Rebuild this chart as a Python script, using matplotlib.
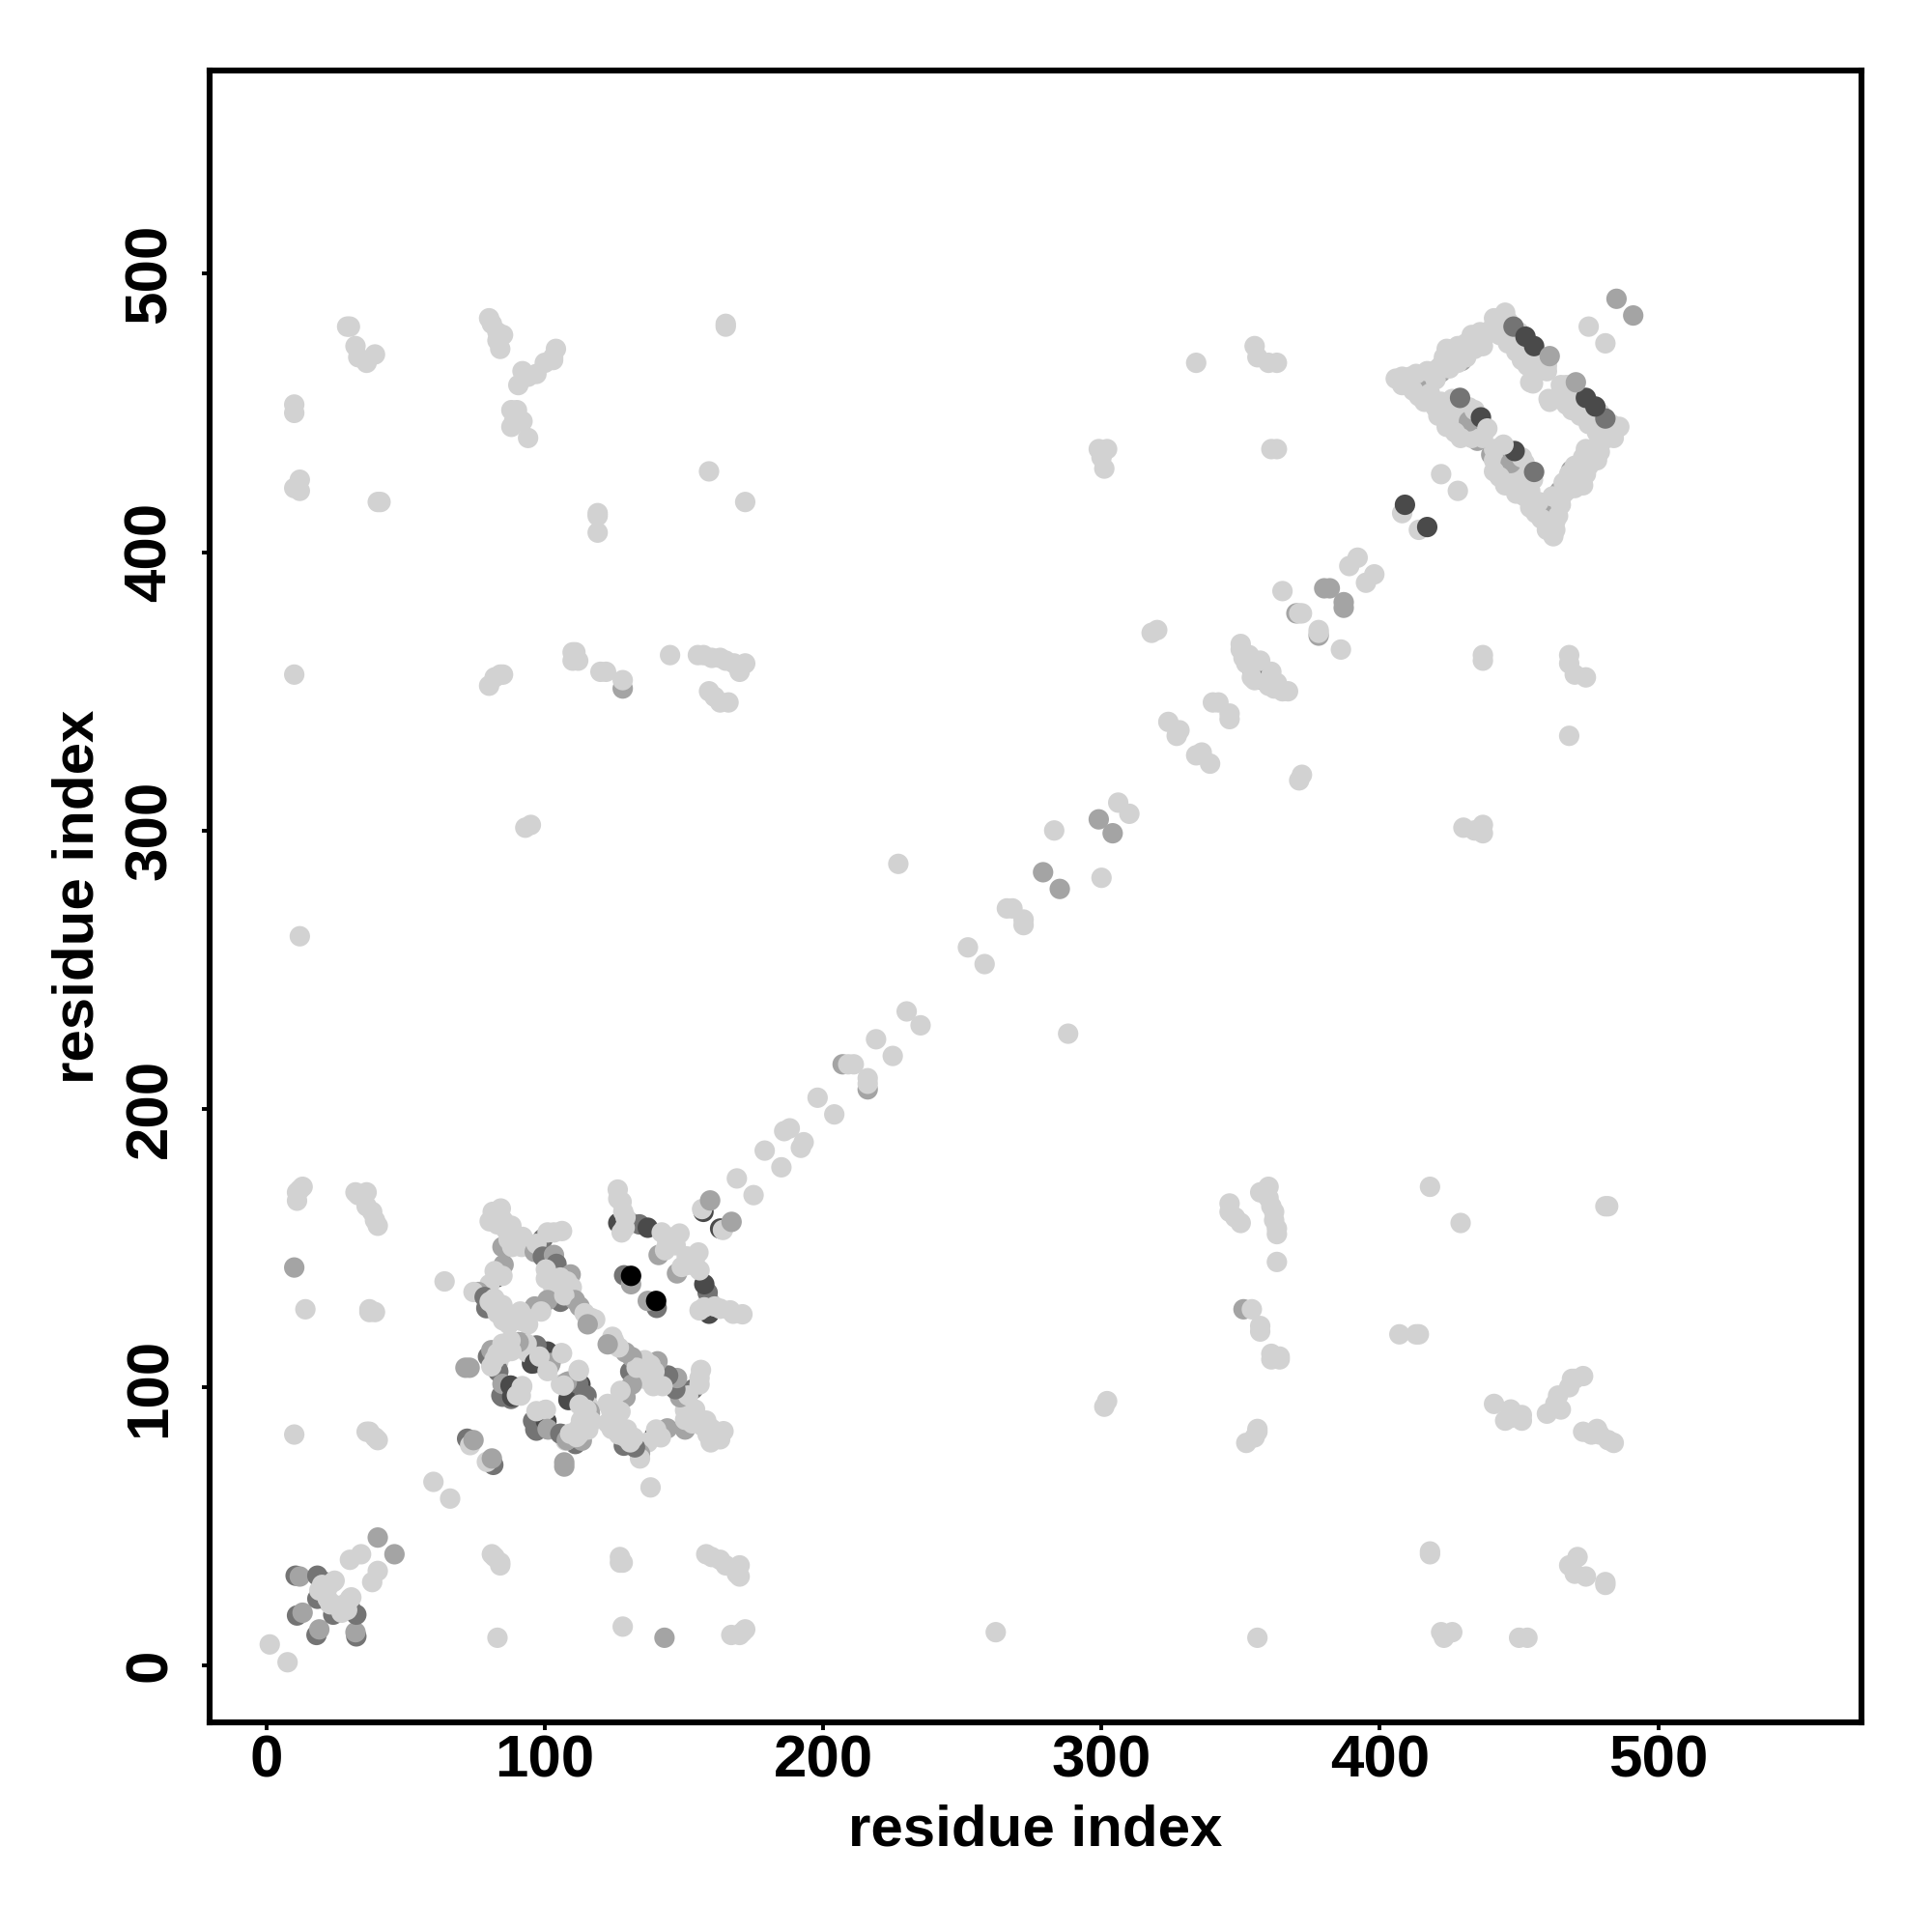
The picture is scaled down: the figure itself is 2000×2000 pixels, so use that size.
import matplotlib
matplotlib.use("Agg")
import matplotlib.pyplot as plt
import numpy as np

plt.rcParams['font.family'] = ['Liberation Sans', 'DejaVu Sans']

# shade code -> grey level
shades = {0: '#D2D2D2', 1: '#A4A4A4', 2: '#747474', 3: '#4A4A4A', 4: '#000000'}
tick_values = [0, 100, 200, 300, 400, 500]
axis_label = 'residue index'

# contacts stored for i<j as (i, j, shade); the map is symmetric
near_origin = [(1.2,7.6,0),(11,18,2),(13,19,1),(10.5,32.3,2),(12,32,1),(18.3,32.3,2),(18.3,24,2),(21,30,2),
               (20,29,0),(19,27,0),(22,28,0),(21,27.5,0),(24,30,0),(30,38,0),(34,40,0),(40,46,1),
               (24.5,30.5,0),(22,24,0),(23,22,0)]
left_columns = [(10,83,0),(10,143,1),(14,128,0),(11,167,0),(11,170,0),(13,172,0),(12,171,0),(10,356,0),(12,262,0),
                (10,423,0),(12,422,0),(12,426,0),(10,450,0),(10,453,0),(29,481,0),(30,481,0),(32,474,0),(33,470,0),
                (36,468,0),(39,471,0),(40,418,0),(41,418,0),(36,84,0),(37,84,0),(39,82,0),(40,81,0),(37,127,0),
                (37,128,0),(39,127,0),(32,170,0),(33,169,0),(36,170,0),(36,165,0),(38,163,0),(39,160,0),(40,158,0)]
mid_columns = [(80,484,0),(81,482,0),(83,479,0),(83,476,0),(85,478,0),(84,473,0),(90.5,460,0),(92,465,0),(94,463,0),
               (97,464,0),(100,468,0),(103,470,0),(104,473,0),(103,469,0),(88,451,0),(89,447,0),(90,451,0),(88,445,0),
               (92,447,0),(94,441,0),(93,301,0),(95,302,0),(80,352,0),(82,355,0),(84,356,0),(85,356,0),(110,361,0),
               (110,364,0),(111,364,0),(112,361,0),(120,357,0),(122,357,0),(128,351,1),(128,354,0),(119,413,0),
               (119,414,0),(119,407,0),(145,363,0),(155,363,0),(157,363,0),(160,362,0),(163,362,0),(165,361,0),
               (168,360,0),(170,358,0),(172,360,0),(170,357,0),(159,350,0),(161,348,0),(163,346,0),(166,346,0),
               (159,429,0),(172,418,0),(165,481,0),(165,482,0),(227,288,0),(334,468,0),(355,474,0),(356,470,0),
               (360,468,0),(363,468,0),(299,437,0),(302,437,0),(300,434,0),(301,430,0),(361,437,0),(363,437,0)]
diagonal_band = [(60,66,0),(64,138,0),(169,175,0),(179,185,0),(186,192,0),(188,193,0),(198,204,0),(207,216,1),(209,216,0),
                 (211,216,0),(219,225,0),(230,235,0),(252,258,0),(266,272,0),(268,272,0),(279,285,1),(283,300,0),
                 (299,304,1),(306,310,0),(318,371,0),(320,372,0),(324,339,0),(327,334,0),(328,336,0),(340,346,0),
                 (342,346,0),(354,358,2),(355,360,1),(350,367,0),(350,365,0),(351,362,0),(352,360,0),(353,363,0),
                 (357,361,0),(354,355,0),(365,386,0),(370,378,1),(371,378,0),(372,378,0),(380,387,1),(382,387,1),
                 (389,395,0),(392,398,0),(408,414,0),(409,417,3),(422,428,0),(475,481,0),(485,491,1)]
wing = [(126.4,159,3),(131,159,1),(134,158.5,2),(137,157.3,3),(126.2,171,0),(126.4,167.7,0),(127.6,166.6,0),(128.2,163,0),
        (129,161,0),(127.6,155.6,0),(128.7,157.3,0),(140.9,147.5,1),(142,155.6,0),(145,153.8,0),(148.4,155.2,0),(143.2,149.2,0),
        (144,152,0),(147,151,0),(157,163,3),(156.5,164,0),(159.4,167.1,1),(128.5,140.2,2),(131,137,1),(131,140,4)]
ring_upper = [(85.2,144,1),(84.8,150.4,1),(81.3,163,0),(84.2,164.2,0),(80.2,159.6,0),(83,158.5,0),(86,156.7,0),(89.4,154.4,0),
              (82,161,0),(85,160,0),(88,158,0),(87,153,0),(90,152,0),(92,154,0),
              (88.3,150.4,0),(91.7,150.4,0),(99.3,153.3,2),(101,155.6,0),(103.3,155.6,0),(106.2,156.1,0),(96.4,148.6,1),
              (97,151.5,0),(99.3,146.9,2),(103.3,147.5,1),(104.2,144.3,2),(100.4,142.3,0),(100.4,139,0),(109.3,140.5,1),
              (105.6,139.4,0),(103,136,0),(108,138,0),(105.6,130.7,2),(109.7,135.9,0),(106.8,135.3,0),(101,131.3,1),(96.4,129,1),(98.7,127.2,0),
              (110.8,131.3,1),(107,133,0),(112.5,129,1),(114.3,126.6,0),(116.6,124.9,0),(118.1,124.3,0),(115.4,122.6,1),
              (82.5,139.4,3),(84.8,140,0),(82,141.7,0),(80.2,137,0),(76.1,134.2,1),(74.4,134.2,0),(78.4,132.4,2),
              (79,128.4,2),(80.2,130.7,0),(81.9,131.9,0),(84.8,129.5,0),(83,126.6,0),(87.7,126,0),(87.1,122.6,0),
              (91.7,123.8,0),(94,122.6,0),(91.2,127.2,0),(89,124,0),(93,125,0),(85,124,0),(82,129,0)]
ring_lower = [(101,112.8,3),(97,115,2),(96.4,108.7,3),(102.1,108.7,1),(106.2,112.2,0),(98.1,111,0),(101,105.8,0),(93.5,115.6,0),
              (90.6,116.2,1),(87.7,116.8,0),(79.6,111,2),(80.8,113.3,1),(84.8,115.6,0),(83,112.2,0),(83,106.4,2),(80.8,107.5,0),
              (82,110,0),(85,112,0),(88,113,0),(84.8,96.6,2),(84.8,101.2,1),(88.3,96.6,3),(87.7,100.6,3),(91.7,100,0),(90,97.1,0),(71.5,107,1),(73,107,1),
              (108.5,95.4,3),(114.3,97.1,2),(112,101.2,2),(107.9,101.8,1),(106.8,100.6,0),(112.2,105.8,0),(112.5,93.7,0),
              (116,91.4,1),(95.8,87.9,2),(97,84.4,2),(100.4,87.9,3),(97,91.4,0),(100.4,91.9,0),(101,85,1),(105.6,83.3,2),
              (107.9,81,1),(109.1,83.3,0),(111.4,82.1,0),(113,84,0),(114.9,85.6,0),(116.6,87.9,0),(113.7,89,0),(115,92,0),(72.1,81.5,2),
              (73.2,79.2,0),(74.4,81,1)]
bow_light = [(409,461.5,1),(415,462,1),(421.9,464.6,1),(429.4,468.7,1),(405.7,462.3,0),(408,463,0),(411,463,0),(413,464,0),(417,465,0),(419,464,0),
             (421,466,0),(420,462,0),(422,467,0),(424,468,0),(425,466,0),(427,470,0),(424,473,0),(428,474,0),(426,472,0),(423,470,0),
             (431,475,0),(433,478,0),(430,472,0),(436,479,0),(438,478,0),(435,475,0),(440,480,0),(443,483,0),(441,484,0),(445,486,0),
             (431,470,0),(434,473,0),(437,474,0),(428,468,0),
             (447,478,0),(444,482,0),(446,483,0),(450,479,0),(450,474,0),(453,472,0),(454,470,0),
             (456,470,0),(458,468,0),(460,467,0),(458,466,0),(460,465,0),(456,466,0),(454,461,0),(455,460.6,0),
             (449,472,0),(446,475,0),(443,478,0),(451,469,0),(453,467,0),
             (428,447,1),(430,446,1),(431,443,1),(434,445,1),(435,440,1),(436,442,1),
             (408,460,0),(412,458,0),(414,456,0),(416,454,0),(420,452,0),(422,454,0),(424,452,0),(426,455,0),(426,450,0),
             (418,457,0),(421,449,0),(425,447,0),(430,449,0),(432,452,0),(433,441,0),(432,447,1),(434,451,0),(437,441,0),
             (424,445,0),(427,443,0),(429,441,0)]
bow_dark = [(448,481,2),(452.3,477.4,3),(455.4,474,3),(461,470.4,1),(428.8,455.4,2),(436.3,448.4,3),(438.6,444.4,0)]

groups = [near_origin, left_columns, mid_columns, diagonal_band, ring_upper, ring_lower, wing, bow_light, bow_dark]

fig = plt.figure(figsize=(10, 10), dpi=200)
ax = fig.add_axes([217/2000, 1 - 1783/2000, 1710/2000, 1710/2000])

for group in groups:
    i = np.array([c[0] for c in group])
    j = np.array([c[1] for c in group])
    col = [shades[c[2]] for c in group]
    ax.scatter(np.r_[j, i], np.r_[i, j], s=58, c=col + col, linewidths=0, zorder=3)

ax.set_xlim(-20.4, 573)
ax.set_ylim(-20.4, 573)
ax.set_xticks(tick_values)
ax.set_yticks(tick_values)
ax.set_xticklabels([str(v) for v in tick_values], fontsize=22.3, fontweight='bold')
ax.set_yticklabels([str(v) for v in tick_values], fontsize=22.3, fontweight='bold', rotation=90, va='center')
ax.tick_params(axis='x', length=2.8, width=1.4, pad=1.8)
ax.tick_params(axis='y', length=2.8, width=1.4, pad=8.7)
for s in ax.spines.values():
    s.set_linewidth(2.2)
ax.set_xlabel(axis_label, fontsize=21.6, fontweight='bold', labelpad=5.3)
ax.set_ylabel(axis_label, fontsize=21.6, fontweight='bold', labelpad=7)
fig.savefig('out.png', dpi=200)
